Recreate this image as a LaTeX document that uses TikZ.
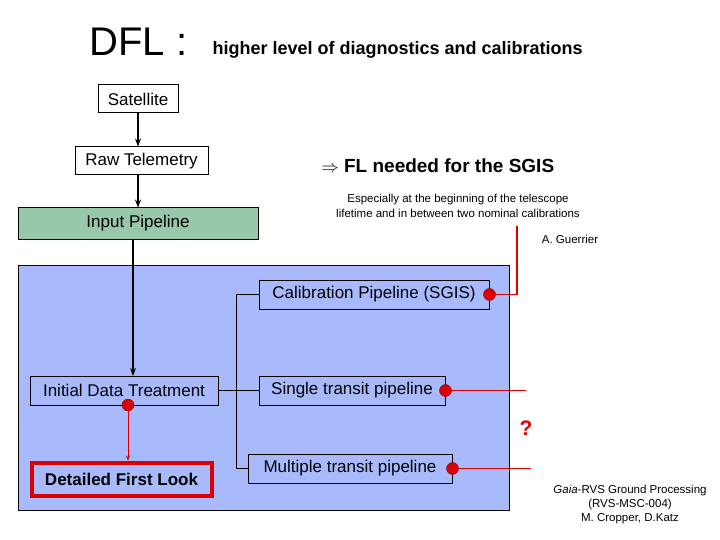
\documentclass[tikz,border=0pt]{standalone}
\usepackage{fontspec}
\setmainfont{Liberation Sans}
\usetikzlibrary{arrows.meta}
\definecolor{bluebg}{RGB}{168,186,252}
\definecolor{greenbg}{RGB}{152,200,170}
\definecolor{rd}{RGB}{220,0,0}
\begin{document}
\begin{tikzpicture}[x=1pt,y=-1pt,
  box/.style={draw,line width=1pt,inner sep=0pt,font=\fontsize{17}{19}\selectfont},
  blk/.style={-{Stealth[length=8pt,width=6pt]},line width=1.6pt},
  dot/.style={circle,fill=rd,draw=rd!60!black,inner sep=0pt,minimum width=10pt,minimum height=12pt},
  rl/.style={draw=rd,thin}]
\useasboundingbox (0,0) rectangle (720,540);
\node[anchor=base west,font=\fontsize{40}{42}\selectfont] (t1) at (86,56) {DFL :};
\node[anchor=base west,font=\bfseries\fontsize{18}{20}\selectfont] (t2) at (209,55) {higher level of diagnostics and calibrations};
\fill[bluebg,draw=black,line width=1pt] (18,265) rectangle (509,510);
\node[box,fill=white,minimum width=80pt,minimum height=28pt] (sat) at (138,99) {Satellite};
\node[box,fill=white,minimum width=133pt,minimum height=28pt] (raw) at (141.5,161) {Raw Telemetry};
\node[box,fill=greenbg,minimum width=240pt,minimum height=31pt] (inp) at (138,223.5) {Input Pipeline};
\node[box,minimum width=230pt,minimum height=29pt] (cal) at (374,294.5) {Calibration Pipeline (SGIS)};
\node[box,minimum width=186pt,minimum height=29pt] (sin) at (352,390.5) {Single transit pipeline};
\node[box,minimum width=204pt,minimum height=29pt] (mul) at (350,468.5) {Multiple transit pipeline};
\node[box,minimum width=188pt,minimum height=29pt] (idt) at (124,390.5) {Initial Data Treatment};
\node[draw=rd,line width=4pt,inner sep=0pt,minimum width=180pt,minimum height=33pt,font=\bfseries\fontsize{17}{19}\selectfont] (dfl) at (121.5,479) {Detailed First Look};
\draw[blk] (sat) -- (raw.north -| sat);
\draw[blk] (raw.south -| sat) -- (inp.north -| sat);
\draw[blk] (133,239) -- (133,376);
\coordinate (br) at (236,390.5);
\draw[thin] (idt.east) -- (br);
\draw[thin] (cal.west) -- (236,294.5) -- (236,468.5) -- (mul.west);
\draw[thin] (br) -- (sin.west);
\node[dot] (d1) at (cal.east) {};
\node[dot] (d2) at (sin.east) {};
\node[dot] (d3) at (mul.east) {};
\node[dot] (d4) at (128,405) {};
\coordinate (c1) at (517,294.5);
\coordinate (c1t) at (517,226);
\coordinate (c2) at (526,390.5);
\coordinate (c3) at (531,468.5);
\draw[draw=rd,line width=1.5pt] (d1) -- (c1) -- (c1t);
\draw[rl] (d2) -- (c2);
\draw[rl] (d3) -- (c3);
\draw[draw=rd,-{Stealth[length=5pt,width=4pt]}] (d4) -- (dfl.north -| d4);
\node[font=\bfseries\fontsize{19}{21}\selectfont,anchor=west] (fl) at (318,166) {$\Rightarrow$ FL needed for the SGIS};
\node[font=\fontsize{11.5}{15}\selectfont,align=center] (esp) at (458,206) {Especially at the beginning of the telescope\\lifetime and in between two nominal calibrations};
\node[font=\fontsize{11.5}{13}\selectfont] (ag) at (570,239) {A. Guerrier};
\node[font=\bfseries\fontsize{21}{22}\selectfont,text=rd] (q) at (526,428) {?};
\node[font=\fontsize{11.5}{14}\selectfont,align=center] (ref) at (630,505) {\textit{Gaia}-RVS Ground Processing\\(RVS-MSC-004)\\M. Cropper, D.Katz};
\end{tikzpicture}
\end{document}
